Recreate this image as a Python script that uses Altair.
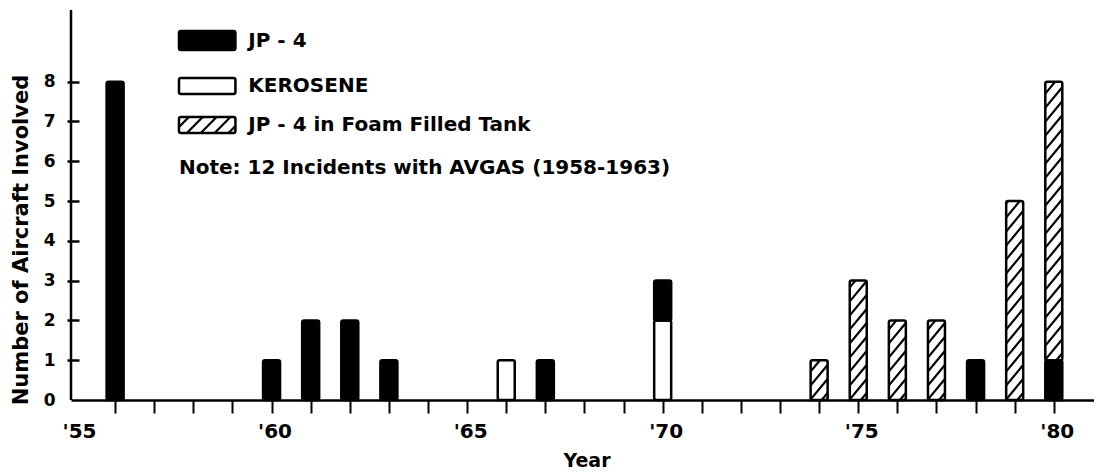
import json
import altair as alt
import pandas as pd

# ---------------- data ----------------
years = [1956, 1960, 1961, 1962, 1963, 1966, 1967, 1970, 1974, 1975, 1976, 1977, 1978, 1979, 1980]
kerosene = [0, 0, 0, 0, 0, 1, 0, 2, 0, 0, 0, 0, 0, 0, 0]
jp4 = [8, 1, 2, 2, 1, 0, 1, 1, 0, 0, 0, 0, 1, 0, 1]
foam = [0, 0, 0, 0, 0, 0, 0, 0, 1, 3, 2, 2, 0, 5, 7]

series = ["KEROSENE", "JP-4", "JP-4 in Foam Filled Tank"]          # stacking order, bottom -> top
legend_series = ["JP-4", "KEROSENE", "JP-4 in Foam Filled Tank"]
legend_labels = ["JP - 4", "KEROSENE", "JP - 4  in Foam Filled Tank"]
note_text = "Note: 12 Incidents with AVGAS (1958-1963)"

x_tick_years = list(range(1955, 1981))
x_label_years = [1955, 1960, 1965, 1970, 1975, 1980]
x_tick_labels = ["'55", "'60", "'65", "'70", "'75", "'80"]
y_tick_values = list(range(0, 9))
x_title = "Year"
y_title = "Number of Aircraft Involved"

# ---------------- layout / style ----------------
W, H = 1023, 390
X_MIN, X_MAX = 1955, 1980.9
Y_MIN, Y_MAX = 0, 9.8
PX_YEAR = W / (X_MAX - X_MIN)
PX_UNIT = H / (Y_MAX - Y_MIN)
BAR_PX = 17
STROKE = 2.5
FONT = "DejaVu Sans"
HATCH_SPACING = 14
HATCH_SLOPE = 1.2


def px_to_x(px):
    return X_MIN + px / PX_YEAR


def py_to_y(py):
    return Y_MAX - py / PX_UNIT


def hatch(w, h, spacing, slope):
    segs = []
    k = -slope * w + spacing * 0.5
    while k < h:
        u0 = max(0.0, -k / slope)
        u1 = min(w, (h - k) / slope)
        if u1 > u0 + 1e-6:
            segs.append((u0, k + slope * u0, u1, k + slope * u1))
        k += spacing
    return segs


# stacked bar segments
rows = []
for i, yr in enumerate(years):
    base = 0
    for name, vals in zip(series, [kerosene, jp4, foam]):
        v = vals[i]
        if v > 0:
            rows.append({"year": yr, "fuel": name, "y0": base, "y1": base + v})
            base += v
bars_df = pd.DataFrame(rows)

# hatch lines inside foam-filled segments
hrows = []
for r in rows:
    if r["fuel"] != series[2]:
        continue
    left = r["year"] - (BAR_PX / 2) / PX_YEAR
    h = (r["y1"] - r["y0"]) * PX_UNIT
    for u0, v0, u1, v1 in hatch(BAR_PX, h, HATCH_SPACING, HATCH_SLOPE):
        hrows.append({"x": left + u0 / PX_YEAR, "y": r["y0"] + v0 / PX_UNIT,
                      "x2": left + u1 / PX_YEAR, "y2": r["y0"] + v1 / PX_UNIT})

# legend (pixel layout relative to the plot origin)
LEG_X0, LEG_X1 = 104, 161
LEG_ROWS = [(21, 40), (68, 84), (107, 123)]
LEG_TEXT_X = 174
LEG_TEXT_Y = [31, 76, 115]
NOTE_X, NOTE_Y = 104, 158

leg_rects = pd.DataFrame([
    {"fuel": s, "x": px_to_x(LEG_X0), "x2": px_to_x(LEG_X1),
     "y": py_to_y(b), "y2": py_to_y(t)}
    for s, (t, b) in zip(legend_series, LEG_ROWS)
])
t, b = LEG_ROWS[2]
for u0, v0, u1, v1 in hatch(LEG_X1 - LEG_X0, b - t, 14, 1.0):
    hrows.append({"x": px_to_x(LEG_X0 + u0), "y": py_to_y(b - v0),
                  "x2": px_to_x(LEG_X0 + u1), "y2": py_to_y(b - v1)})
hatch_df = pd.DataFrame(hrows)

texts_df = pd.DataFrame(
    [{"label": l, "x": px_to_x(LEG_TEXT_X), "y": py_to_y(yy)} for l, yy in zip(legend_labels, LEG_TEXT_Y)]
    + [{"label": note_text, "x": px_to_x(NOTE_X), "y": py_to_y(NOTE_Y)}]
)

# ---------------- scales / axes ----------------
label_expr = "".join(
    f"datum.value == {yv} ? {json.dumps(lab)} : " for yv, lab in zip(x_label_years, x_tick_labels)
) + "''"

x_scale = alt.Scale(domain=[X_MIN, X_MAX], nice=False, zero=False)
y_scale = alt.Scale(domain=[Y_MIN, Y_MAX], nice=False)

x_axis = alt.Axis(
    values=x_tick_years, labelExpr=label_expr, title=None, grid=False,
    domain=True, domainColor="black", domainWidth=STROKE,
    ticks=True, tickSize=13, tickWidth=2,
    tickColor={"condition": {"test": "datum.value == 1955", "value": "transparent"}, "value": "black"},
    labelFont=FONT, labelFontWeight="bold", labelFontSize=20, labelColor="black",
    labelPadding=8, labelOffset=3, labelAngle=0, labelOverlap=False, labelFlush=False,
)
y_axis = alt.Axis(
    values=y_tick_values, title=None, grid=False, domain=False, offset=-8,
    ticks=True, tickSize=12, tickWidth=STROKE,
    tickColor={"condition": {"test": "datum.value == 0", "value": "transparent"}, "value": "black"},
    labelFont=FONT, labelFontWeight="bold", labelFontSize=17, labelColor="black",
    labelPadding=12, labelBaseline="middle", labelAlign="right", labelFlush=False,
)

fill_scale = alt.Scale(domain=series, range=["white", "black", "white"])

bars = alt.Chart(bars_df).mark_bar(
    size=BAR_PX, stroke="black", strokeWidth=STROKE, cornerRadius=2
).encode(
    x=alt.X("year:Q", scale=x_scale, axis=x_axis),
    y=alt.Y("y0:Q", scale=y_scale, axis=y_axis),
    y2="y1:Q",
    fill=alt.Fill("fuel:N", scale=fill_scale, legend=None),
)

legend_boxes = alt.Chart(leg_rects).mark_rect(
    stroke="black", strokeWidth=STROKE, cornerRadius=2
).encode(
    x=alt.X("x:Q", scale=x_scale, axis=x_axis),
    x2="x2:Q",
    y=alt.Y("y:Q", scale=y_scale, axis=y_axis),
    y2="y2:Q",
    fill=alt.Fill("fuel:N", scale=fill_scale, legend=None),
)

hatches = alt.Chart(hatch_df).mark_rule(color="black", strokeWidth=2.2).encode(
    x=alt.X("x:Q", scale=x_scale, axis=x_axis),
    x2="x2:Q",
    y=alt.Y("y:Q", scale=y_scale, axis=y_axis),
    y2="y2:Q",
)

legend_text = alt.Chart(texts_df).mark_text(
    align="left", baseline="middle", font=FONT, fontWeight="bold", fontSize=20, color="black"
).encode(
    x=alt.X("x:Q", scale=x_scale, axis=x_axis),
    y=alt.Y("y:Q", scale=y_scale, axis=y_axis),
    text="label:N",
)

y_axis_line = alt.Chart(pd.DataFrame({"v": [0]})).mark_rule(
    color="black", strokeWidth=STROKE
).encode(x=alt.value(0), y=alt.value(0), y2=alt.value(H))

x_title_mark = alt.Chart(pd.DataFrame({"t": [x_title]})).mark_text(
    font=FONT, fontWeight="bold", fontSize=19, color="black", align="center", baseline="middle"
).encode(text="t:N", x=alt.value(516), y=alt.value(451))

y_title_mark = alt.Chart(pd.DataFrame({"t": [y_title]})).mark_text(
    font=FONT, fontWeight="bold", fontSize=21, color="black", align="center", baseline="middle", angle=270
).encode(text="t:N", x=alt.value(-49.5), y=alt.value(230))

chart = alt.layer(
    bars, legend_boxes, hatches, legend_text, y_axis_line, x_title_mark, y_title_mark
).properties(
    width=W, height=H,
    autosize=alt.AutoSizeParams(type="none"),
    padding={"left": 63, "top": 2, "right": 0, "bottom": 74},
    background="white",
).configure_view(stroke=None)

chart.save("out.html", embed_options={"renderer": "svg", "actions": False})
